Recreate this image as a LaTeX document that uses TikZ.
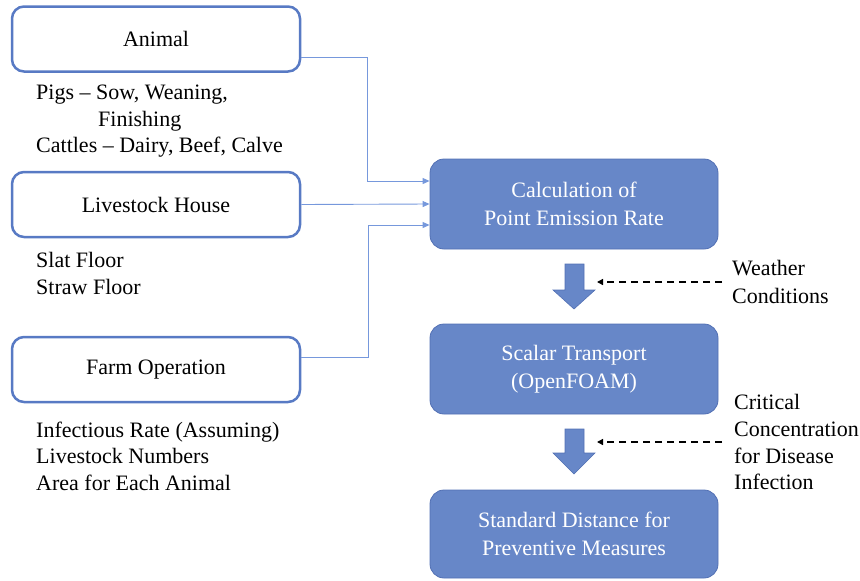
\documentclass[tikz,border=0pt]{standalone}
\usepackage{fontspec}
\setmainfont{Liberation Serif}
\usetikzlibrary{arrows.meta,calc}
\definecolor{boxblue}{RGB}{88,122,196}
\definecolor{fillblue}{RGB}{103,135,200}
\definecolor{edgeblue}{RGB}{82,112,180}
\definecolor{lineblue}{RGB}{118,152,220}
\begin{document}
\begin{tikzpicture}[x=1pt,y=-1pt,
 inbox/.style={draw=boxblue, line width=2.5pt, rounded corners=12pt, fill=white, minimum width=288pt, minimum height=65pt, font=\fontsize{22}{26}\selectfont, inner sep=0pt},
 procbox/.style={draw=edgeblue, line width=0.8pt, fill=fillblue, rounded corners=14pt, minimum width=288pt, minimum height=90pt, text=white, align=center, font=\fontsize{22}{28}\selectfont, inner sep=0pt},
 note/.style={anchor=base west, font=\fontsize{22}{26}\selectfont, inner sep=0pt},
 conn/.style={draw=lineblue, line width=0.9pt, -{Triangle[length=7pt,width=6pt]}},
 dasharrow/.style={draw=black, line width=1.3pt, dash pattern=on 7pt off 5pt, -{Triangle[length=6pt,width=6pt]}},
 bigarrow/.style={fill=fillblue, draw=edgeblue, line width=0.6pt},
]
\useasboundingbox (0,0) rectangle (860,581);

% input boxes
\node[inbox] (animal) at (156,39) {Animal};
\node[inbox] (house) at (156,204.5) {Livestock House};
\node[inbox] (farm) at (156,369.5) {Farm Operation};

% notes
\node[note] (n1) at (36,99) {Pigs -- Sow, Weaning,};
\node[note] (n2) at (98,126) {Finishing};
\node[note] (n3) at (36,152) {Cattles -- Dairy, Beef, Calve};
\node[note] (n4) at (36,267) {Slat Floor};
\node[note] (n5) at (36,294) {Straw Floor};
\node[note] (n6) at (36,437) {Infectious Rate (Assuming)};
\node[note] (n7) at (36,463) {Livestock Numbers};
\node[note] (n8) at (36,490) {Area for Each Animal};

% process boxes
\node[procbox] (calc) at (574,204) {Calculation of\\Point Emission Rate};
\node[procbox] (scalar) at (574,369) {Scalar Transport\\(OpenFOAM)};
\node[procbox, minimum height=88pt] (std) at (574,534) {Standard Distance for\\Preventive Measures};

% connectors
\draw[conn] ([yshift=-18pt]animal.east) -- ++(66,0) |- ([yshift=23pt]calc.west);
\draw[conn] (house.east) -- (calc.west);
\draw[conn] ([yshift=12.5pt]farm.east) -- ++(67,0) |- ([yshift=-21pt]calc.west);

% block arrows
\draw[bigarrow] (565,264) -- (584,264) -- (584,290) -- (595,290) -- (574,309) -- (553,290) -- (565,290) -- cycle;
\draw[bigarrow] (565,429) -- (584,429) -- (584,453) -- (595,453) -- (574,474) -- (553,453) -- (565,453) -- cycle;

% right labels
\node[note] (w1) at (732,275) {Weather};
\node[note] (w2) at (732,303) {Conditions};
\node[note] (c1) at (734,409) {Critical};
\node[note] (c2) at (734,436) {Concentration};
\node[note] (c3) at (734,463) {for Disease};
\node[note] (c4) at (734,489) {Infection};

% dashed arrows
\coordinate (ws) at (722,282);
\coordinate (we) at (597,282);
\coordinate (cs) at (722,442);
\coordinate (ce) at (597,442);
\draw[dasharrow] (ws) -- (we);
\draw[dasharrow] (cs) -- (ce);
\end{tikzpicture}
\end{document}
